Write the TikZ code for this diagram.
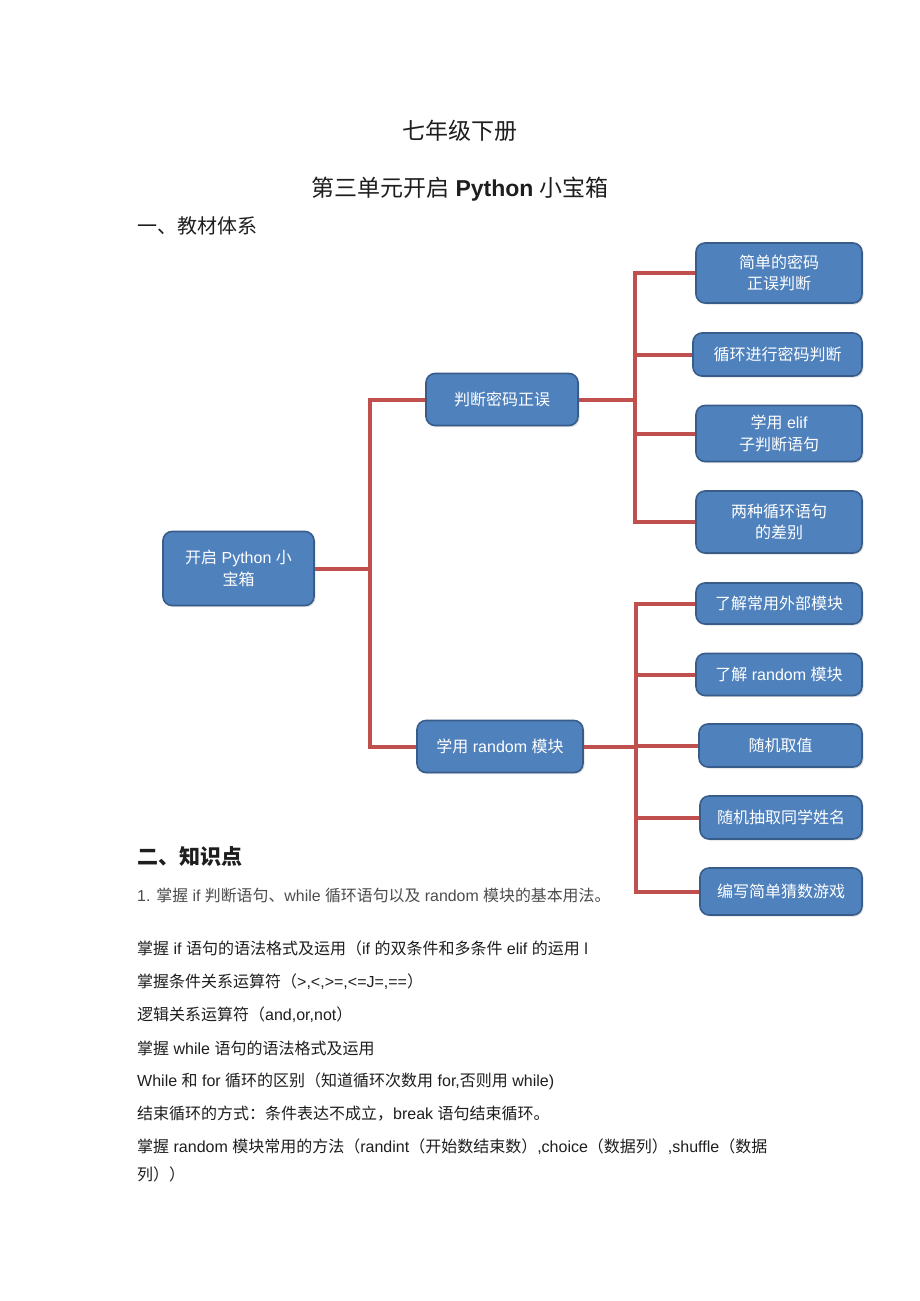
\documentclass[tikz,border=0pt]{standalone}
\usepackage{fontspec}
\setmainfont{Liberation Sans}
\newfontfamily\cj{Noto Sans CJK SC}
\newfontfamily\lat{Liberation Sans}
\usetikzlibrary{shadows}
\XeTeXinterchartokenstate=1
\newXeTeXintercharclass\CJKc
\makeatletter
\count@="3000
\loop \XeTeXcharclass\count@=\CJKc \ifnum\count@<"303F \advance\count@ by 1 \repeat
\count@="4E00
\loop \XeTeXcharclass\count@=\CJKc \ifnum\count@<"9FFF \advance\count@ by 1 \repeat
\count@="FF00
\loop \XeTeXcharclass\count@=\CJKc \ifnum\count@<"FFEF \advance\count@ by 1 \repeat
\makeatother
\XeTeXinterchartoks 0 \CJKc = {\cj}
\XeTeXinterchartoks 4095 \CJKc = {\cj}
\XeTeXinterchartoks \CJKc 0 = {\lat}
\XeTeXinterchartoks \CJKc 4095 = {\lat}
\definecolor{boxblue}{HTML}{4F81BD}
\definecolor{boxedge}{HTML}{385D8A}
\definecolor{linkred}{HTML}{C0504D}
\definecolor{ink}{HTML}{1E1E1E}
\begin{document}
\begin{tikzpicture}[x=1pt,y=-1pt,
  title/.style={text=ink, inner sep=0pt, font=\fontsize{23}{28}\selectfont},
  head/.style={text=ink, inner sep=0pt, anchor=west, font=\fontsize{20}{24}\selectfont},
  bodytext/.style={text=ink, inner sep=0pt, anchor=west, font=\fontsize{16}{20}\selectfont},
  box/.style={rounded corners=9pt, fill=boxblue, draw=boxedge, line width=1.6pt,
    text=white, align=center, inner sep=0pt, font=\fontsize{16}{21.5}\selectfont,
    drop shadow={opacity=0.25, shadow xshift=1.5pt, shadow yshift=-1.5pt}},
  link/.style={draw=linkred, line width=4pt, line join=miter}]
\useasboundingbox (0,0) rectangle (920,1301);
\fill[white] (0,0) rectangle (920,1301);

\node[title] (ta) at (460,131) {七年级下册};
\node[title] (tb) at (460,189) {第三单元开启 {\bfseries Python} 小宝箱};
\node[head] (h1) at (137,226) {一、教材体系};

% boxes
\node[box, minimum width=151pt, minimum height=74pt] (root) at (238.5,568.5) {开启 Python 小\\宝箱};
\node[box, minimum width=152pt, minimum height=52pt] (pd) at (502,399.5) {判断密码正误};
\node[box, minimum width=166pt, minimum height=52pt] (rm) at (500,746.5) {学用 random 模块};

\node[box, minimum width=166pt, minimum height=60pt] (a1) at (779,273) {简单的密码\\正误判断};
\node[box, minimum width=169pt, minimum height=43pt] (a2) at (777.5,354.5) {循环进行密码判断};
\node[box, minimum width=166pt, minimum height=56pt] (a3) at (779,433.5) {学用 elif\\子判断语句};
\node[box, minimum width=166pt, minimum height=62pt] (a4) at (779,522) {两种循环语句\\的差别};

\node[box, minimum width=166pt, minimum height=41pt] (b1) at (779,603.5) {了解常用外部模块};
\node[box, minimum width=166pt, minimum height=42pt] (b2) at (779,674.5) {了解 random 模块};
\node[box, minimum width=163pt, minimum height=43pt] (b3) at (780.5,745.5) {随机取值};
\node[box, minimum width=162pt, minimum height=43pt] (b4) at (781,817.5) {随机抽取同学姓名};
\node[box, minimum width=162pt, minimum height=47pt] (b5) at (781,891.5) {编写简单猜数游戏};

% connectors
\coordinate (j0) at (370,568.5);
\coordinate (j1) at (635,399.5);
\coordinate (j2) at (636,746.5);
\draw[link] (root.east) -- (j0);
\draw[link] (pd.west) -| (j0);
\draw[link] (rm.west) -| (j0);
\draw[link] (pd.east) -- (j1);
\draw[link] (a1.west) -| (j1);
\draw[link] (a2.west) -| (j1);
\draw[link] (a3.west) -| (j1);
\draw[link] (a4.west) -| (j1);
\draw[link] (rm.east) -- (j2);
\draw[link] (b1.west) -| (j2);
\draw[link] (b2.west) -| (j2);
\draw[link] (b3.west) -| (j2);
\draw[link] (b4.west) -| (j2);
\draw[link] (b5.west) -| (j2);

% knowledge points
\node[head, font=\fontsize{21}{25}\selectfont\bfseries] (h2) at (137,856) {二、知识点};
\node[bodytext, text=black!70, font=\fontsize{15.9}{19}\selectfont] (p0) at (137,895) {1. 掌握 if 判断语句、while 循环语句以及 random 模块的基本用法。};
\node[bodytext] (p1) at (137,948) {掌握 if 语句的语法格式及运用（if 的双条件和多条件 elif 的运用 l};
\node[bodytext] (p2) at (137,982) {掌握条件关系运算符（>,<,>=,<=J=,==）};
\node[bodytext] (p3) at (137,1015) {逻辑关系运算符（and,or,not）};
\node[bodytext] (p4) at (137,1048) {掌握 while 语句的语法格式及运用};
\node[bodytext] (p5) at (137,1081) {While 和 for 循环的区别（知道循环次数用 for,否则用 while)};
\node[bodytext] (p6) at (137,1114) {结束循环的方式：条件表达不成立，break 语句结束循环。};
\node[bodytext] (p7) at (137,1147) {掌握 random 模块常用的方法（randint（开始数结束数）,choice（数据列）,shuffle（数据};
\node[bodytext] (p8) at (137,1174) {列））};
\end{tikzpicture}
\end{document}
